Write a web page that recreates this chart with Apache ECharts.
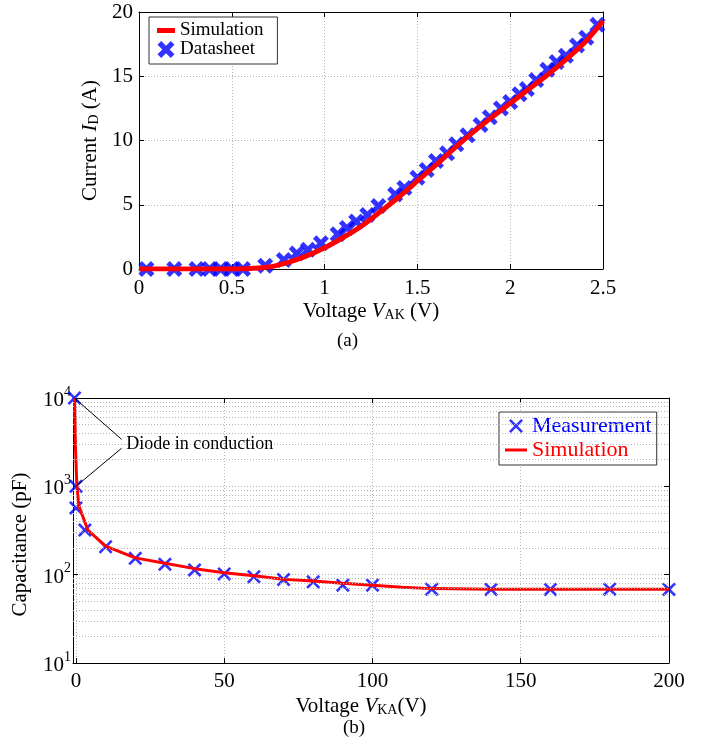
<!DOCTYPE html>
<html>
<head>
<meta charset="utf-8">
<script src="https://cdn.jsdelivr.net/npm/echarts@6/dist/echarts.min.js"></script>
<style>
  html, body { margin: 0; padding: 0; background: #fff; }
  #chart { width: 711px; height: 749px; }
</style>
</head>
<body>
<div id="chart"></div>
<script>
// ---------- Data: (a) diode forward characteristic ----------
const simVoltageA = [0, 0.5, 0.6, 0.7, 0.8, 0.9, 1.0, 1.1, 1.2, 1.3, 1.4, 1.5, 1.6, 1.7, 1.8, 1.9, 2.0, 2.1, 2.2, 2.3, 2.4, 2.5];
const simCurrentA = [0, 0, 0.04, 0.15, 0.5, 1.0, 1.65, 2.45, 3.35, 4.45, 5.6, 6.85, 8.1, 9.4, 10.65, 11.8, 12.9, 14.0, 15.1, 16.3, 17.6, 19.3];
const dsVoltage = [0.04, 0.19, 0.31, 0.38, 0.44, 0.50, 0.56, 0.68, 0.78, 0.85, 0.91, 0.98, 1.07, 1.12, 1.17, 1.23, 1.29, 1.38, 1.43, 1.50, 1.55, 1.60, 1.66, 1.71, 1.77, 1.84, 1.89, 1.95, 2.00, 2.05, 2.09, 2.14, 2.20, 2.25, 2.30, 2.36, 2.41, 2.47];
const dsCurrent = [0, 0, 0, 0, 0, 0, 0, 0.25, 0.7, 1.2, 1.5, 2.0, 2.7, 3.2, 3.7, 4.2, 4.9, 5.8, 6.3, 7.1, 7.7, 8.4, 9.0, 9.7, 10.4, 11.2, 11.8, 12.5, 13.0, 13.6, 14.0, 14.7, 15.5, 16.1, 16.6, 17.4, 18.0, 19.0];
const xTicksA = [0, 0.5, 1, 1.5, 2, 2.5];
const yTicksA = [0, 5, 10, 15, 20];

// ---------- Data: (b) capacitance vs voltage ----------
const measVoltage = [-0.5, 0, 0, 3, 10, 20, 30, 40, 50, 60, 70, 80, 90, 100, 120, 140, 160, 180, 200];
const measCap = [10000, 1000, 570, 320, 207, 153, 131, 113, 102, 95, 88, 83, 76, 76, 68.5, 68, 68, 68.5, 68];
const simVoltageB = [-0.5, -0.2, 0.3, 1, 4, 10, 20, 30, 40, 50, 60, 70, 80, 90, 100, 110, 120, 140, 160, 180, 200];
const simCapB = [10000, 3000, 1000, 600, 320, 210, 155, 135, 117, 105, 97, 89, 85, 80, 76, 72, 69.5, 68.5, 68.5, 68.5, 68.5];
const xTicksB = [0, 50, 100, 150, 200];
const minorGridB = [20, 30, 40, 50, 60, 70, 80, 90, 200, 300, 400, 500, 600, 700, 800, 900, 2000, 3000, 4000, 5000, 6000, 7000, 8000, 9000];
const arrowFrom = [[-0.5, 10000], [0, 1000]];
const arrowTo = [[15.4, 3400], [15.4, 2700]];
const annotationAt = [15.6, 3000];
const annotationText = 'Diode in conduction';

const FONT = '"Liberation Serif", "DejaVu Serif", serif';
const BLUE = '#0000ff', RED = '#ff0000';
const GRIDC = '#b4b4b4';
const X_THICK = 'path://M0,2.6 L2.6,0 L6,3.4 L9.4,0 L12,2.6 L8.6,6 L12,9.4 L9.4,12 L6,8.6 L2.6,12 L0,9.4 L3.4,6 Z';
const X_THIN = 'path://M0,1.6 L1.6,0 L6,4.4 L10.4,0 L12,1.6 L7.6,6 L12,10.4 L10.4,12 L6,7.6 L1.6,12 L0,10.4 L4.4,6 Z';

const axisLineStyle = { show: true, onZero: false, lineStyle: { color: '#000', width: 1 } };
const tickIn = { show: true, inside: true, length: 5, lineStyle: { color: '#000' } };
const labelStyle = { fontFamily: FONT, fontSize: 21, color: '#000' };
const dotStyle = { type: [1, 2], color: GRIDC, width: 1 };
const dotted = { show: true, lineStyle: dotStyle };
const richName = {
  n: { fontFamily: FONT, fontSize: 21, color: '#000', lineHeight: 24, verticalAlign: 'bottom' },
  i: { fontFamily: FONT, fontSize: 21, color: '#000', fontStyle: 'italic', lineHeight: 24, verticalAlign: 'bottom' },
  sub: { fontFamily: FONT, fontSize: 14, color: '#000', lineHeight: 14, verticalAlign: 'bottom' }
};

const chart = echarts.init(document.getElementById('chart'), null, { renderer: 'canvas' });

const option = {
  animation: false,
  backgroundColor: '#fff',
  grid: [
    { left: 139, top: 12, width: 464, height: 257, containLabel: false },
    { left: 73, top: 398, width: 596, height: 265, containLabel: false }
  ],
  xAxis: [
    {
      gridIndex: 0, type: 'value', position: 'bottom', min: 0, max: 2.5, interval: 0.5,
      axisLine: axisLineStyle, axisTick: tickIn, splitLine: dotted,
      axisLabel: Object.assign({ margin: 9, formatter: v => String(v) }, labelStyle),
      name: '{n|Voltage }{i|V}{sub|AK}{n| (V)}', nameLocation: 'middle', nameGap: 29,
      nameTextStyle: { rich: richName }
    },
    {
      gridIndex: 0, type: 'value', position: 'top', min: 0, max: 2.5, interval: 0.5,
      axisLine: axisLineStyle, axisTick: tickIn, splitLine: { show: false }, axisLabel: { show: false }
    },
    {
      gridIndex: 1, type: 'value', position: 'bottom', min: -1, max: 200,
      axisLine: axisLineStyle,
      axisTick: Object.assign({ customValues: xTicksB }, tickIn),
      splitLine: dotted,
      axisLabel: Object.assign({ margin: 8, customValues: xTicksB }, labelStyle),
      name: '{n|Voltage }{i|V}{sub|KA}{n|(V)}', nameLocation: 'middle', nameGap: 30,
      nameTextStyle: { rich: richName, padding: [0, 20, 0, 0] }
    },
    {
      gridIndex: 1, type: 'value', position: 'top', min: -1, max: 200,
      axisLine: axisLineStyle,
      axisTick: Object.assign({ customValues: xTicksB }, tickIn),
      splitLine: { show: false }, axisLabel: { show: false }
    }
  ],
  yAxis: [
    {
      gridIndex: 0, type: 'value', position: 'left', min: 0, max: 20, interval: 5,
      axisLine: axisLineStyle, axisTick: tickIn, splitLine: dotted,
      axisLabel: Object.assign({ margin: 6 }, labelStyle),
      name: '{n|Current }{i|I}{sub|D}{n| (A)}', nameLocation: 'middle', nameGap: 37, nameRotate: 90,
      nameTextStyle: { rich: richName }
    },
    {
      gridIndex: 0, type: 'value', position: 'right', min: 0, max: 20, interval: 5,
      axisLine: axisLineStyle, axisTick: tickIn, splitLine: { show: false }, axisLabel: { show: false }
    },
    {
      gridIndex: 1, type: 'log', logBase: 10, position: 'left', min: 10, max: 10000,
      axisLine: axisLineStyle, axisTick: tickIn, splitLine: dotted,
      axisLabel: {
        margin: 2,
        formatter: v => '{b|10}{s|' + Math.round(Math.log10(v)) + '}',
        rich: {
          b: { fontFamily: FONT, fontSize: 21, color: '#000', lineHeight: 26, verticalAlign: 'bottom' },
          s: { fontFamily: FONT, fontSize: 14, color: '#000', lineHeight: 14, verticalAlign: 'top' }
        }
      },
      name: 'Capacitance (pF)', nameLocation: 'middle', nameGap: 38, nameRotate: 90,
      nameTextStyle: { fontFamily: FONT, fontSize: 21, color: '#000', lineHeight: 24, padding: [0, 28, 0, 0] }
    },
    {
      gridIndex: 1, type: 'log', logBase: 10, position: 'right', min: 10, max: 10000,
      axisLine: axisLineStyle, axisTick: tickIn, splitLine: { show: false }, axisLabel: { show: false }
    }
  ],
  legend: [
    {
      orient: 'vertical', left: 149, top: 17,
      padding: [4, 14, 5, 8], itemGap: 0, itemWidth: 18, itemHeight: 17,
      backgroundColor: '#fff', borderColor: '#333', borderWidth: 1,
      textStyle: { fontFamily: FONT, fontSize: 19, color: '#000', lineHeight: 19 },
      data: [
        { name: 'Simulation', icon: 'path://M0,0 H18 V5 H0 Z' },
        { name: 'Datasheet', icon: X_THICK }
      ],
      selectedMode: false
    },
    {
      orient: 'vertical', left: 499, top: 412,
      padding: [2, 5, 3, 6], itemGap: 0, itemWidth: 22, itemHeight: 14,
      backgroundColor: '#fff', borderColor: '#333', borderWidth: 1,
      textStyle: { fontFamily: FONT, fontSize: 22, lineHeight: 24 },
      data: [
        { name: 'Measurement', icon: X_THIN, textStyle: { color: BLUE } },
        { name: 'Simulation', icon: 'path://M0,0 H22 V3 H0 Z', textStyle: { color: RED }, itemStyle: { color: RED } }
      ],
      selectedMode: false
    }
  ],
  graphic: [
    { type: 'text', left: 349 - 12, top: 332, style: { text: '(a)', font: '19px ' + FONT, fill: '#000' } },
    { type: 'text', left: 355 - 12, top: 719, style: { text: '(b)', font: '19px ' + FONT, fill: '#000' } }
  ],
  series: [
    {
      name: 'Datasheet', type: 'scatter', xAxisIndex: 0, yAxisIndex: 0,
      symbol: X_THICK, symbolSize: 16, itemStyle: { color: BLUE }, z: 2,
      data: dsVoltage.map((v, i) => [v, dsCurrent[i]])
    },
    {
      name: 'Simulation', type: 'line', xAxisIndex: 0, yAxisIndex: 0,
      smooth: 0.3, showSymbol: false, symbol: 'none', z: 3,
      lineStyle: { color: RED, width: 5 }, itemStyle: { color: RED },
      data: simVoltageA.map((v, i) => [v, simCurrentA[i]])
    },
    {
      name: 'gridB', type: 'line', xAxisIndex: 2, yAxisIndex: 2, data: [], z: 1,
      markLine: {
        silent: true, symbol: ['none', 'none'], label: { show: false },
        lineStyle: dotStyle,
        emphasis: { disabled: true },
        data: minorGridB.map(v => ({ yAxis: v }))
      }
    },
    {
      name: 'Measurement', type: 'scatter', xAxisIndex: 2, yAxisIndex: 2,
      symbol: X_THIN, symbolSize: 14, itemStyle: { color: BLUE }, z: 2,
      data: measVoltage.map((v, i) => [v, measCap[i]])
    },
    {
      name: 'Simulation', type: 'line', xAxisIndex: 2, yAxisIndex: 2,
      showSymbol: false, symbol: 'none', z: 3,
      lineStyle: { color: RED, width: 3 }, itemStyle: { color: RED },
      data: simVoltageB.map((v, i) => [v, simCapB[i]])
    },
    {
      name: 'annot', type: 'line', xAxisIndex: 2, yAxisIndex: 2, data: [], z: 4,
      markLine: {
        silent: true, symbol: ['none', 'arrow'], symbolSize: [0, 8], label: { show: false },
        lineStyle: { type: 'solid', color: '#000', width: 1 },
        emphasis: { disabled: true },
        data: arrowFrom.map((p, i) => [{ coord: p }, { coord: arrowTo[i] }])
      },
      markPoint: {
        silent: true, symbol: 'circle', symbolSize: 0,
        data: [{
          coord: annotationAt,
          label: { show: true, position: 'right', distance: 4, formatter: annotationText,
                   fontFamily: FONT, fontSize: 18, color: '#000' }
        }]
      }
    }
  ]
};

chart.setOption(option);
</script>
</body>
</html>
